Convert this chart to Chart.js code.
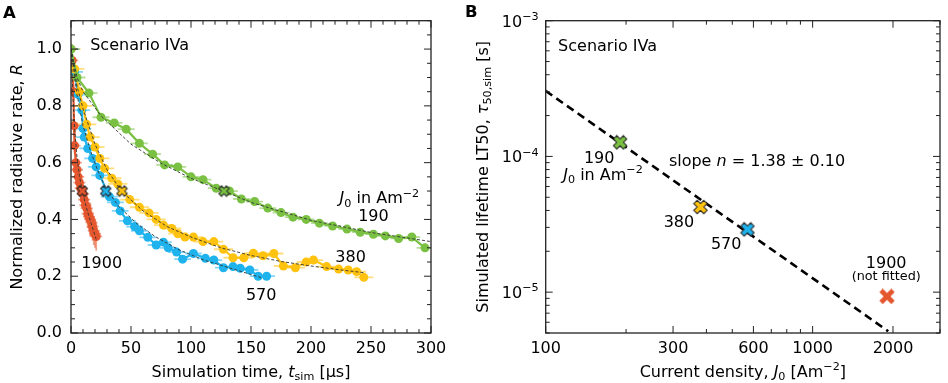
<!DOCTYPE html>
<html>
<head>
<meta charset="utf-8">
<script src="https://cdn.jsdelivr.net/npm/chart.js@4.4.1/dist/chart.umd.min.js"></script>
<style>
body { margin: 0; background: #fff; }
#wrap { position: relative; width: 948px; height: 383px; }
canvas { position: absolute; top: 0; }
#cA { left: 0; }
#cB { left: 455px; }
</style>
</head>
<body>
<div id="wrap">
  <canvas id="cA" width="474" height="383"></canvas>
  <canvas id="cB" width="493" height="383"></canvas>
</div>
<script>
// ---------- panel A : R(t) for each current density ----------
// J0 = 190 Am^-2
const t190 = [0, 5, 15, 25, 36, 46, 57, 68, 78, 89, 100, 110, 121, 132, 142, 153, 164, 175, 185, 196, 207, 218, 230, 241, 252, 262, 273, 284, 295];
const r190 = [1.0, 0.90, 0.845, 0.76, 0.74, 0.718, 0.668, 0.63, 0.592, 0.585, 0.55, 0.54, 0.51, 0.50, 0.472, 0.463, 0.44, 0.424, 0.408, 0.40, 0.387, 0.377, 0.366, 0.355, 0.348, 0.342, 0.333, 0.338, 0.30];
const fitT190 = [0, 5, 10, 25, 50, 75, 100, 127, 150, 200, 250, 300];
const fitR190 = [1.0, 0.90, 0.85, 0.765, 0.665, 0.598, 0.545, 0.50, 0.46, 0.397, 0.354, 0.322];

// J0 = 380 Am^-2
const t380 = [0, 3, 7, 10, 13, 16, 20, 24, 28, 34, 39, 49, 57, 65, 71, 77, 84, 89, 95, 102, 110, 119, 127, 135, 144, 152, 160, 169, 177, 187, 196, 202, 213, 223, 231, 238, 244];
const r380 = [1.0, 0.93, 0.85, 0.80, 0.735, 0.69, 0.655, 0.615, 0.58, 0.545, 0.525, 0.47, 0.443, 0.423, 0.40, 0.38, 0.368, 0.35, 0.338, 0.338, 0.322, 0.322, 0.295, 0.265, 0.265, 0.281, 0.272, 0.28, 0.236, 0.23, 0.25, 0.257, 0.234, 0.225, 0.222, 0.216, 0.196];
const fitT380 = [0, 5, 10, 20, 30, 42, 60, 80, 100, 125, 150, 175, 200, 225, 245];
const fitR380 = [1.0, 0.87, 0.79, 0.665, 0.575, 0.50, 0.43, 0.375, 0.338, 0.30, 0.273, 0.252, 0.236, 0.222, 0.212];

// J0 = 570 Am^-2
const t570 = [0, 3, 6, 9, 10, 11, 14, 18, 21, 24, 32, 37, 41, 47, 53, 57, 64, 71, 77, 81, 88, 93, 102, 112, 119, 127, 135, 141, 149, 156, 163];
const r570 = [1.0, 0.92, 0.84, 0.785, 0.72, 0.69, 0.65, 0.615, 0.585, 0.555, 0.48, 0.46, 0.43, 0.395, 0.375, 0.36, 0.337, 0.31, 0.32, 0.30, 0.285, 0.26, 0.28, 0.263, 0.257, 0.23, 0.234, 0.228, 0.222, 0.20, 0.20];
const fitT570 = [0, 5, 10, 16, 22, 29, 40, 55, 70, 90, 110, 130, 160];
const fitR570 = [1.0, 0.84, 0.73, 0.645, 0.575, 0.51, 0.445, 0.385, 0.34, 0.293, 0.258, 0.232, 0.193];

// J0 = 1900 Am^-2
const t1900 = [0, 1, 2, 2.5, 3, 4, 5, 6, 7, 8, 10, 11, 12, 13, 14, 15, 16, 17, 18, 19, 20, 21];
const r1900 = [1.0, 0.96, 0.85, 0.73, 0.66, 0.60, 0.575, 0.55, 0.53, 0.51, 0.49, 0.47, 0.45, 0.44, 0.42, 0.41, 0.40, 0.39, 0.375, 0.36, 0.35, 0.34];
const errR1900 = [0.02, 0.02, 0.03, 0.03, 0.03, 0.03, 0.03, 0.03, 0.03, 0.03, 0.04, 0.04, 0.05, 0.05, 0.05, 0.05, 0.06, 0.05, 0.05, 0.05, 0.05, 0.05];
const fitT1900 = [0, 1, 2, 3, 5, 7, 9.4, 12, 15, 18, 21];
const fitR1900 = [1.0, 0.90, 0.80, 0.72, 0.62, 0.555, 0.50, 0.455, 0.41, 0.37, 0.33];

// time error (µs) per series
const errT = { j190: 7, j380: 8, j570: 7, j1900: 5 };

// LT50 points (R = 0.5)
const lt50T = [127.5, 42.5, 29, 9.4];
const lt50R = [0.5, 0.5, 0.5, 0.5];

const aXLabels = [0, 50, 100, 150, 200, 250, 300];
const aYLabels = [0, 0.2, 0.4, 0.6, 0.8, 1.0];

// ---------- panel B : LT50 vs current density ----------
const densJ = [190, 380, 570, 1900];
const lifeTau = [1.27e-4, 4.24e-5, 2.90e-5, 9.3e-6];
const fitJ = [100, 1920];
const fitTau = [3.04e-4, 5.15e-6];

const bXTicks = [100, 200, 300, 400, 500, 600, 700, 800, 900, 1000, 2000, 3000];
const bXLabels = [100, 300, 600, 1000, 2000];
const bYTicks = [5e-6, 6e-6, 7e-6, 8e-6, 9e-6, 1e-5, 2e-5, 3e-5, 4e-5, 5e-5, 6e-5, 7e-5, 8e-5, 9e-5,
                 1e-4, 2e-4, 3e-4, 4e-4, 5e-4, 6e-4, 7e-4, 8e-4, 9e-4, 1e-3];
const bYLabels = [1e-5, 1e-4, 1e-3];
const bYExp = ['\u22125', '\u22124', '\u22123'];

const GREEN = '#7ac143', YELLOW = '#ffc20e', BLUE = '#1fb3ee', RED = '#e4572e';
const FONT = '"DejaVu Sans"';

function pts(xs, ys) { return xs.map((x, i) => ({ x: x, y: ys[i] })); }

// filled X marker like matplotlib 'X'
function makeX(size, fill, edge, lw) {
    const c = document.createElement('canvas');
    c.width = c.height = size;
    const g = c.getContext('2d');
    const h = size / 2, w = size * 0.15;
    const L = (h - lw - 0.3) * Math.SQRT2 - w;
    g.translate(h, h);
    g.rotate(Math.PI / 4);
    const p = [[-w,-L],[w,-L],[w,-w],[L,-w],[L,w],[w,w],[w,L],[-w,L],[-w,w],[-L,w],[-L,-w],[-w,-w]];
    g.beginPath();
    p.forEach((q, i) => i ? g.lineTo(q[0], q[1]) : g.moveTo(q[0], q[1]));
    g.closePath();
    g.fillStyle = fill;
    g.fill();
    if (lw) { g.lineWidth = lw; g.strokeStyle = edge; g.stroke(); }
    return c;
}

// text with italic / sub / sup pieces
function fontFor(kind, size) {
    const s = (kind === 'b' || kind === 'p') ? size * 0.7 : size;
    return (kind === 'i' ? 'italic ' : '') + s + 'px ' + FONT;
}
function drawRich(ctx, runs, x, y, size, align, rot) {
    ctx.save();
    ctx.translate(x, y);
    if (rot) ctx.rotate(rot);
    let w = 0;
    runs.forEach(r => { ctx.font = fontFor(r[1], size); w += ctx.measureText(r[0]).width; });
    let cx = align === 'center' ? -w / 2 : (align === 'right' ? -w : 0);
    ctx.textAlign = 'left';
    ctx.textBaseline = 'alphabetic';
    ctx.fillStyle = '#000';
    runs.forEach(r => {
        ctx.font = fontFor(r[1], size);
        const dy = r[1] === 'b' ? size * 0.22 : (r[1] === 'p' ? -size * 0.42 : 0);
        ctx.fillText(r[0], cx, dy);
        cx += ctx.measureText(r[0]).width;
    });
    ctx.restore();
}

// frame + inward ticks on all 4 sides
function isMajor(scale, t) {
    if (scale.options.majorAt) return scale.options.majorAt.some(l => Math.abs(l - t.value) / l < 1e-6);
    return t.label !== '' && t.label != null;
}
const framePlugin = {
    id: 'frameTicks',
    afterDraw(chart) {
        const { ctx, chartArea: a, scales } = chart;
        ctx.save();
        ctx.strokeStyle = '#222';
        ctx.lineWidth = 1;
        const seg = (x1, y1, x2, y2) => { ctx.beginPath(); ctx.moveTo(x1, y1); ctx.lineTo(x2, y2); ctx.stroke(); };
        scales.x.ticks.forEach(t => {
            const p = scales.x.getPixelForValue(t.value);
            const len = isMajor(scales.x, t) ? 7 : 4;
            seg(p, a.bottom, p, a.bottom - len);
            seg(p, a.top, p, a.top + len);
        });
        scales.y.ticks.forEach(t => {
            const p = scales.y.getPixelForValue(t.value);
            const len = isMajor(scales.y, t) ? 7 : 4;
            seg(a.left, p, a.left + len, p);
            seg(a.right, p, a.right - len, p);
        });
        ctx.lineWidth = 1.3;
        ctx.strokeRect(a.left, a.top, a.right - a.left, a.bottom - a.top);
        ctx.restore();
    }
};

// horizontal / vertical error bars behind the points
const errorPlugin = {
    id: 'errBars',
    beforeDatasetsDraw(chart) {
        const { ctx, chartArea: a, scales } = chart;
        ctx.save();
        ctx.beginPath();
        ctx.rect(a.left, a.top, a.right - a.left, a.bottom - a.top);
        ctx.clip();
        ctx.lineWidth = 1.8;
        chart.data.datasets.forEach(ds => {
            if (ds.errX == null) return;
            ctx.strokeStyle = ds.errColor;
            ds.data.forEach((d, i) => {
                const py = scales.y.getPixelForValue(d.y);
                const px = scales.x.getPixelForValue(d.x);
                ctx.beginPath();
                ctx.moveTo(scales.x.getPixelForValue(d.x - ds.errX), py);
                ctx.lineTo(scales.x.getPixelForValue(d.x + ds.errX), py);
                ctx.stroke();
                if (ds.errY) {
                    const e = ds.errY[i];
                    ctx.beginPath();
                    ctx.moveTo(px, scales.y.getPixelForValue(d.y - e));
                    ctx.lineTo(px, scales.y.getPixelForValue(d.y + e));
                    ctx.stroke();
                }
            });
        });
        ctx.restore();
    }
};

// text labels (positions given in data coordinates)
function notesPlugin(notes, extra) {
    return {
        id: 'notes',
        afterDraw(chart) {
            const { ctx, chartArea: a, scales } = chart;
            notes.forEach(n => {
                drawRich(ctx, n.runs, scales.x.getPixelForValue(n.x), scales.y.getPixelForValue(n.y),
                         n.size || 16, n.align || 'center', 0);
            });
            extra(ctx, a, scales);
        }
    };
}

const tickFont = { family: FONT, size: 16 };
const noGrid = { display: false, drawTicks: false };
const noBorder = { display: false };

// ---------- chart A ----------
function series(label, ts, rs, color, errColor, eT, eR) {
    return {
        label: label, data: pts(ts, rs), showLine: true,
        borderColor: color, backgroundColor: color, borderWidth: 2.2,
        pointRadius: 4.5, pointBorderWidth: 0, pointBackgroundColor: color,
        errX: eT, errY: eR, errColor: errColor, order: 3
    };
}
function fitLine(ts, rs) {
    return {
        data: pts(ts, rs), showLine: true, borderColor: '#333', borderWidth: 0.9,
        borderDash: [3, 2], pointRadius: 0, order: 1
    };
}

const xA = [makeX(13, GREEN, '#222', 1), makeX(13, YELLOW, '#222', 1), makeX(13, BLUE, '#222', 1), makeX(13, RED, '#222', 1)];

new Chart(document.getElementById('cA'), {
    type: 'scatter',
    data: {
        datasets: [
            series('190', t190, r190, GREEN, 'rgba(122,193,67,0.55)', errT.j190),
            series('380', t380, r380, YELLOW, 'rgba(255,194,14,0.55)', errT.j380),
            series('570', t570, r570, BLUE, 'rgba(31,179,238,0.55)', errT.j570),
            series('1900', t1900, r1900, RED, 'rgba(228,87,46,0.55)', errT.j1900, errR1900),
            fitLine(fitT190, fitR190),
            fitLine(fitT380, fitR380),
            fitLine(fitT570, fitR570),
            fitLine(fitT1900, fitR1900),
            {
                data: pts(lt50T, lt50R), showLine: false, pointRadius: 6,
                pointStyle: xA, order: 0
            }
        ]
    },
    options: {
        responsive: false, animation: false, events: [],
        layout: { padding: { top: 20.7, right: 43, bottom: 0, left: 0 } },
        plugins: { legend: { display: false }, tooltip: { enabled: false } },
        scales: {
            x: {
                type: 'linear', min: 0, max: 300,
                grid: noGrid, border: noBorder,
                afterBuildTicks(s) {
                    const tk = [];
                    for (let v = 0; v <= 300; v += 10) tk.push({ value: v });
                    s.ticks = tk;
                },
                ticks: {
                    autoSkip: false, maxRotation: 0, padding: 6, color: '#000', font: tickFont,
                    callback: v => aXLabels.includes(v) ? String(v) : ''
                },
                afterFit(s) { s.height = 50; }
            },
            y: {
                type: 'linear', min: 0, max: 1.1,
                grid: noGrid, border: noBorder,
                afterBuildTicks(s) {
                    const tk = [];
                    for (let k = 0; k <= 22; k++) tk.push({ value: k * 0.05 });
                    s.ticks = tk;
                },
                ticks: {
                    autoSkip: false, padding: 9, color: '#000', font: tickFont,
                    callback: v => aYLabels.some(l => Math.abs(l - v) < 1e-9) ? v.toFixed(1) : ''
                },
                afterFit(s) { s.width = 71; }
            }
        }
    },
    plugins: [errorPlugin, framePlugin, notesPlugin([
        { x: 16, y: 0.998, runs: [['Scenario IVa', '']], align: 'left' },
        { x: 257, y: 0.457, runs: [['J', 'i'], ['0', 'b'], [' in Am', ''], ['\u22122', 'p']] },
        { x: 252, y: 0.393, runs: [['190', '']] },
        { x: 233, y: 0.2515, runs: [['380', '']] },
        { x: 158.5, y: 0.116, runs: [['570', '']] },
        { x: 25.6, y: 0.228, runs: [['1900', '']] }
    ], (ctx, a) => {
        drawRich(ctx, [['Simulation time, ', ''], ['t', 'i'], ['sim', 'b'], [' [\u00B5s]', '']],
                 (a.left + a.right) / 2, 376.5, 16, 'center', 0);
        drawRich(ctx, [['Normalized radiative rate, ', ''], ['R', 'i']],
                 21.5, (a.top + a.bottom) / 2, 16, 'center', -Math.PI / 2);
        ctx.save();
        ctx.font = 'bold 16.5px ' + FONT;
        ctx.fillStyle = '#000';
        ctx.fillText('A', 3, 18);
        ctx.restore();
    })]
});

// ---------- chart B ----------
const xB = [makeX(16, GREEN, '#222', 1), makeX(16, YELLOW, '#222', 1), makeX(16, BLUE, '#222', 1), makeX(16, RED, '#222', 0)];

new Chart(document.getElementById('cB'), {
    type: 'scatter',
    data: {
        datasets: [
            {
                data: pts(densJ, lifeTau), showLine: false, pointRadius: 7,
                pointStyle: xB, order: 0
            },
            {
                data: pts(fitJ, fitTau), showLine: true, borderColor: '#000', borderWidth: 2.6,
                borderDash: [8, 5], pointRadius: 0, order: 1
            }
        ]
    },
    options: {
        responsive: false, animation: false, events: [],
        layout: { padding: { top: 20.7, right: 1.3, bottom: 0, left: 0 } },
        plugins: { legend: { display: false }, tooltip: { enabled: false } },
        scales: {
            x: {
                type: 'logarithmic', min: 100, max: 3000,
                grid: noGrid, border: noBorder,
                afterBuildTicks(s) { s.ticks = bXTicks.map(v => ({ value: v })); },
                ticks: {
                    autoSkip: false, maxRotation: 0, padding: 6, color: '#000', font: tickFont,
                    callback: v => bXLabels.includes(v) ? String(v) : ''
                },
                afterFit(s) { s.height = 50; }
            },
            y: {
                type: 'logarithmic', min: 5e-6, max: 1e-3,
                majorAt: bYLabels,
                grid: noGrid, border: noBorder,
                afterBuildTicks(s) { s.ticks = bYTicks.map(v => ({ value: v })); },
                ticks: { display: false },
                afterFit(s) { s.width = 90.7; }
            }
        }
    },
    plugins: [framePlugin, notesPlugin([
        { x: 111.3, y: 6.01e-4, runs: [['Scenario IVa', '']], align: 'left' },
        { x: 158.6, y: 8.87e-5, runs: [['190', '']] },
        { x: 164, y: 6.71e-5, runs: [['J', 'i'], ['0', 'b'], [' in Am', ''], ['\u22122', 'p']] },
        { x: 289.4, y: 8.47e-5, runs: [['slope ', ''], ['n', 'i'], [' = 1.38 \u00B1 0.10', '']], align: 'left' },
        { x: 315.5, y: 3.02e-5, runs: [['380', '']] },
        { x: 474.4, y: 2.09e-5, runs: [['570', '']] },
        { x: 1886, y: 1.51e-5, runs: [['1900', '']] },
        { x: 1886, y: 1.22e-5, runs: [['(not fitted)', '']], size: 12.8 }
    ], (ctx, a, scales) => {
        // decade labels of the log y axis
        bYLabels.forEach((v, i) => {
            drawRich(ctx, [['10', ''], [bYExp[i], 'p']], a.left - 7, scales.y.getPixelForValue(v) + 6, 16, 'right', 0);
        });
        drawRich(ctx, [['Current density, ', ''], ['J', 'i'], ['0', 'b'], [' [Am', ''], ['\u22122', 'p'], [']', '']],
                 (a.left + a.right) / 2, 376.5, 16, 'center', 0);
        drawRich(ctx, [['Simulated lifetime LT50, ', ''], ['\u03C4', 'i'], ['50,sim', 'b'], [' [s]', '']],
                 32.5, (a.top + a.bottom) / 2, 16, 'center', -Math.PI / 2);
        ctx.save();
        ctx.font = 'bold 16.5px ' + FONT;
        ctx.fillStyle = '#000';
        ctx.fillText('B', 10, 17);
        ctx.restore();
    })]
});
</script>
</body>
</html>
